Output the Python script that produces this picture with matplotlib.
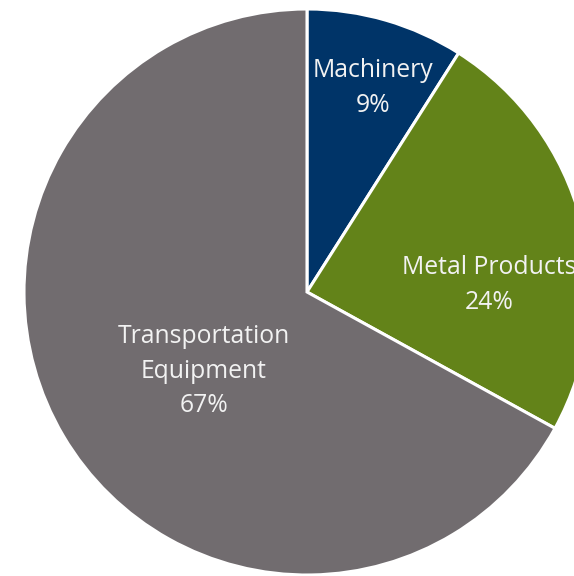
import matplotlib.pyplot as plt

categories = ['Machinery', 'Metal Products', 'Transportation\nEquipment']
shares = [9, 24, 67]
colors = ['#003468', '#638319', '#716C6F']

# label centres in pixels of the original picture (x, y from top)
label_px = [(373, 88), (489, 285), (204, 371)]

W, H = 574, 576
cx, cy, R = 307, 292, 283

fig = plt.figure(figsize=(W / 100, H / 100), dpi=100)
ax = fig.add_axes([0, 0, 1, 1])
ax.pie(shares, colors=colors, startangle=90, counterclock=False,
       radius=1, center=(0, 0),
       wedgeprops=dict(edgecolor='white', linewidth=2.2))
ax.set_xlim(-cx / R, (W - cx) / R)
ax.set_ylim(-(H - cy) / R, cy / R)
ax.set_aspect('auto')
ax.axis('off')

for name, val, (px, py) in zip(categories, shares, label_px):
    x = (px - cx) / R
    y = (cy - py) / R
    ax.text(x, y, f'{name}\n{val}%', ha='center', va='center',
            color='#F2F2F2', fontsize=17.8, family='Open Sans',
            linespacing=1.5)

fig.savefig('out.png', dpi=100)
